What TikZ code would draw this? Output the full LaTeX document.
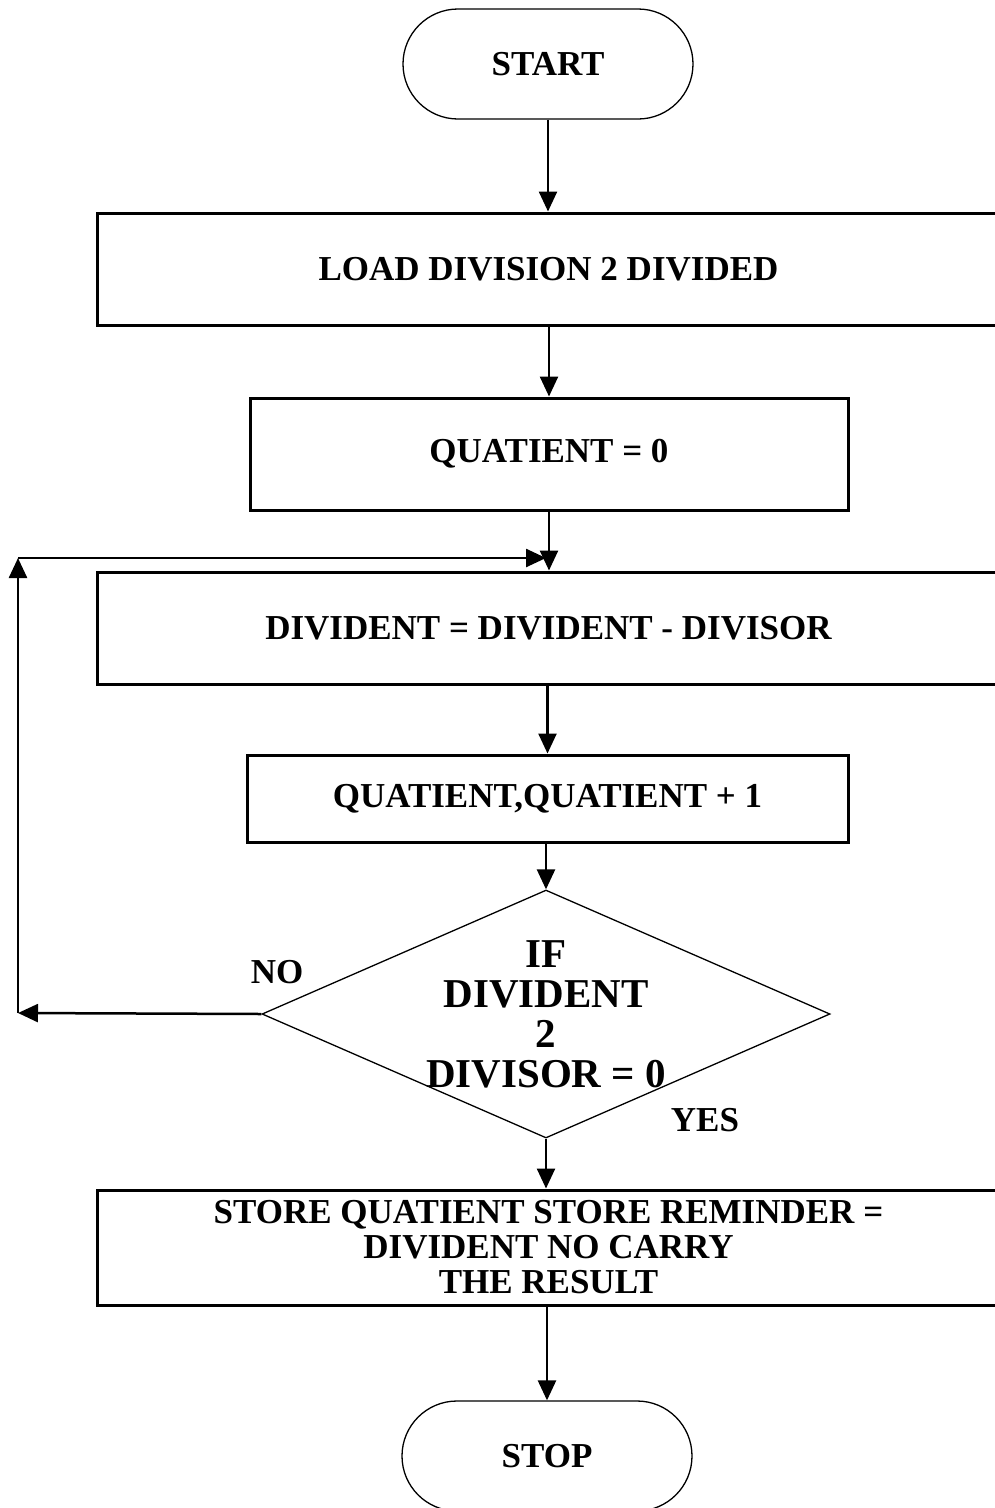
\documentclass[tikz,border=0pt]{standalone}
\usepackage{fontspec}
\setmainfont{Liberation Serif}
\usetikzlibrary{shapes.geometric, arrows.meta}

\begin{document}
\begin{tikzpicture}[
    x=1pt, y=-1pt,
    proc-box/.style={draw, line width=3pt, minimum height=112pt, inner sep=0pt, align=center, font=\bfseries\fontsize{35}{35}\selectfont},
    term-box/.style={draw, line width=1.3pt, rounded corners=55pt, minimum width=290pt, minimum height=110pt, font=\bfseries\fontsize{35}{35}\selectfont},
    dec-box/.style={draw, diamond, line width=1.3pt, minimum width=568pt, minimum height=248pt, inner sep=0pt},
    flow-arr/.style={line width=2.5pt, -{Triangle[length=20pt, width=18pt]}},
    tag/.style={font=\bfseries\fontsize{35}{35}\selectfont}
  ]
  \useasboundingbox (0,0) rectangle (994,1508);

  \node (start) [term-box] at (548,64) {START};
  \node (load) [proc-box, minimum width=903pt] at (548.5,269) {LOAD DIVISION 2 DIVIDED};
  \node (zero) [proc-box, minimum width=598pt] at (549,454) {QUATIENT = 0};
  \node (sub) [proc-box, minimum width=903pt] at (548.5,628) {DIVIDENT = DIVIDENT - DIVISOR};
  \node (inc) [proc-box, minimum width=601pt, minimum height=87pt] at (547.5,798.5) {QUATIENT,QUATIENT + 1};
  \node (test) [dec-box, label={[font=\bfseries\fontsize{41}{40}\selectfont, align=center]center:{IF\\DIVIDENT\\2\\DIVISOR = 0}}] at (546,1014) {};
  \node (store) [proc-box, minimum width=903pt, minimum height=115pt] at (548.5,1247.5) {STORE QUATIENT STORE REMINDER =\\DIVIDENT NO CARRY\\THE RESULT};
  \node (stop) [term-box] at (547,1456) {STOP};

  \node (no) [tag] at (277,972) {NO};
  \node (yes) [tag] at (705,1120) {YES};

  % loop back
  \coordinate (no-l) at (18,1013);
  \coordinate (no-t) at (18,558);
  \coordinate (no-r) at (546,558);

  \draw[flow-arr] (start.south) -- (start.south |- load.north);
  \draw[flow-arr] (zero.north |- load.south) -- (zero.north);
  \draw[flow-arr] (zero.south) -- (zero.south |- sub.north);
  \draw[flow-arr] (inc.north |- sub.south) -- (inc.north);
  \draw[flow-arr] (test.north |- inc.south) -- (test.north);
  \draw[flow-arr] (test.south) -- (test.south |- store.north);
  \draw[flow-arr] (stop.north |- store.south) -- (stop.north);

  \draw[flow-arr] (test.west) -- (no-l);
  \draw[flow-arr] (no-l) -- (no-t);
  \draw[flow-arr] (no-t) -- (no-r);

\end{tikzpicture}
\end{document}
